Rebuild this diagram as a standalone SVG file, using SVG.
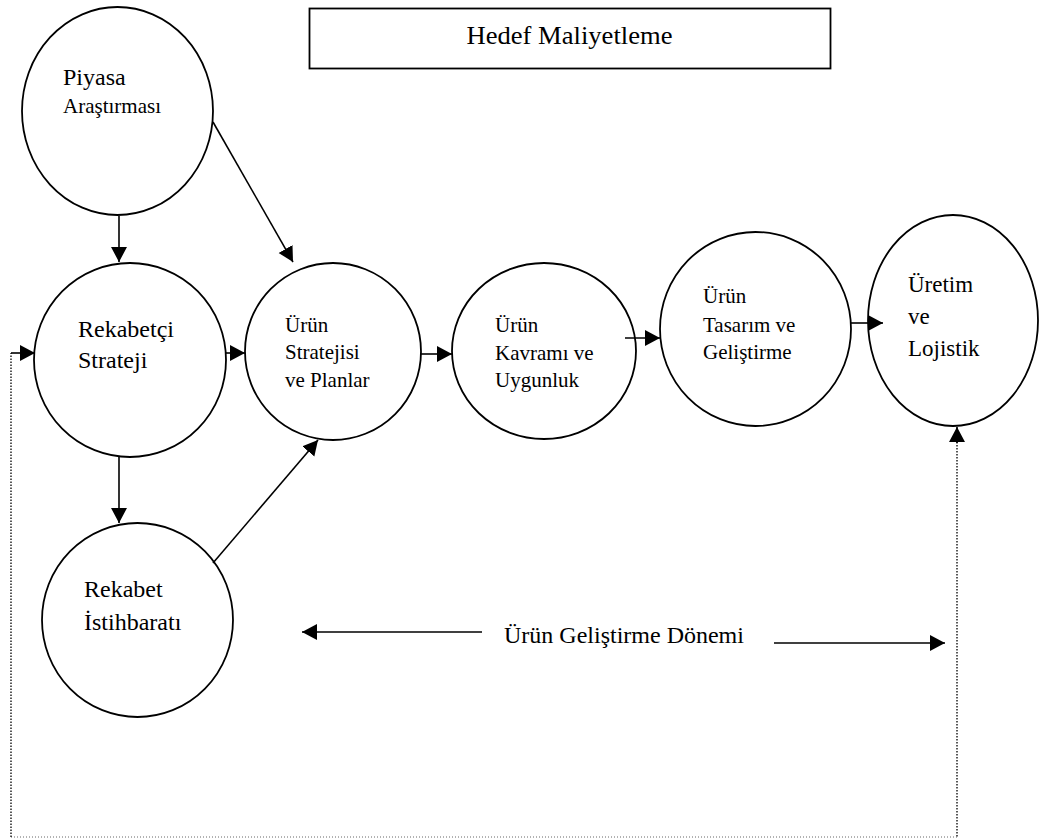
<svg xmlns="http://www.w3.org/2000/svg" width="1039" height="839" viewBox="0 0 1039 839">
  <style>
    .node { fill: #fff; stroke: #000; stroke-width: 1.8; }
    .lbl { font-family: "Liberation Serif", "Times New Roman", serif; fill: #000; }
    .edge { fill: none; stroke: #000; stroke-width: 1.6; }
    .dotv { fill: none; stroke: #000; stroke-width: 1.3; stroke-dasharray: 1.5 1.5; }
    .doth { fill: none; stroke: #666; stroke-width: 1; stroke-dasharray: 1 2; }
  </style>
  <defs>
    <marker id="arrow" markerUnits="userSpaceOnUse" markerWidth="16" markerHeight="17" refX="15" refY="8" orient="auto">
      <path d="M0,0 L15,8 L0,16 Z" fill="#000"/>
    </marker>
  </defs>
  <rect width="1039" height="839" fill="#fff"/>

  <!-- title box -->
  <g id="title">
    <rect x="309.5" y="8.5" width="521" height="60" fill="#fff" stroke="#000" stroke-width="1.8"/>
    <text class="lbl" x="569.5" y="44" font-size="26" text-anchor="middle" textLength="206" lengthAdjust="spacingAndGlyphs">Hedef Maliyetleme</text>
  </g>

  <g id="piyasa">
    <ellipse class="node" cx="117.5" cy="111" rx="95.5" ry="104"/>
    <text class="lbl" x="63" y="85" font-size="24">Piyasa</text>
    <text class="lbl" x="63" y="113" font-size="21">Araştırması</text>
  </g>

  <g id="rekabetci-strateji">
    <ellipse class="node" cx="130" cy="360" rx="96" ry="97"/>
    <text class="lbl" x="78" y="337" font-size="24">Rekabetçi</text>
    <text class="lbl" x="78" y="368" font-size="24">Strateji</text>
  </g>

  <g id="urun-stratejisi">
    <ellipse class="node" cx="333" cy="351.5" rx="88" ry="88.5"/>
    <text class="lbl" x="285" y="332" font-size="21">Ürün</text>
    <text class="lbl" x="285" y="359" font-size="21">Stratejisi</text>
    <text class="lbl" x="285" y="387" font-size="21">ve Planlar</text>
  </g>

  <g id="urun-kavrami">
    <ellipse class="node" cx="544" cy="351" rx="92" ry="88"/>
    <text class="lbl" x="495" y="332" font-size="21">Ürün</text>
    <text class="lbl" x="495" y="360" font-size="21">Kavramı ve</text>
    <text class="lbl" x="495" y="387" font-size="21">Uygunluk</text>
  </g>

  <g id="urun-tasarim">
    <ellipse class="node" cx="755.5" cy="329" rx="95.5" ry="97"/>
    <text class="lbl" x="703" y="303" font-size="21">Ürün</text>
    <text class="lbl" x="703" y="332" font-size="21">Tasarım ve</text>
    <text class="lbl" x="703" y="359" font-size="21">Geliştirme</text>
  </g>

  <g id="uretim">
    <ellipse class="node" cx="953" cy="320.5" rx="85" ry="105.5"/>
    <text class="lbl" x="908" y="292" font-size="23">Üretim</text>
    <text class="lbl" x="908" y="324" font-size="23">ve</text>
    <text class="lbl" x="908" y="356" font-size="23">Lojistik</text>
  </g>

  <g id="rekabet-istihbarati">
    <ellipse class="node" cx="137.5" cy="620" rx="95.5" ry="97"/>
    <text class="lbl" x="84" y="597" font-size="24">Rekabet</text>
    <text class="lbl" x="84" y="630" font-size="24">İstihbaratı</text>
  </g>

  <g id="donem-label">
    <text class="lbl" x="504" y="643" font-size="24">Ürün Geliştirme Dönemi</text>
  </g>

  <!-- connectors, drawn over the nodes -->
  <g id="connectors">
    <line class="edge" x1="119" y1="216" x2="119" y2="262" marker-end="url(#arrow)"/>
    <line class="edge" x1="213" y1="122" x2="293" y2="262" marker-end="url(#arrow)"/>
    <line class="edge" x1="226" y1="353" x2="245" y2="353" marker-end="url(#arrow)"/>
    <line class="edge" x1="421" y1="354" x2="452" y2="354" marker-end="url(#arrow)"/>
    <line class="edge" x1="625" y1="338" x2="660" y2="338" marker-end="url(#arrow)"/>
    <line class="edge" x1="851" y1="323" x2="883" y2="323" marker-end="url(#arrow)"/>
    <line class="edge" x1="119" y1="457" x2="119" y2="523" marker-end="url(#arrow)"/>
    <line class="edge" x1="213" y1="563" x2="318" y2="440" marker-end="url(#arrow)"/>
    <!-- development period span -->
    <line class="edge" x1="482" y1="632" x2="302" y2="632" marker-end="url(#arrow)"/>
    <line class="edge" x1="774" y1="643" x2="945" y2="643" marker-end="url(#arrow)"/>
    <!-- feedback loop -->
    <path class="dotv" d="M957,442 V837"/>
    <path class="doth" d="M957,837 H11"/>
    <path class="dotv" d="M11,837 V353"/>
    <line class="edge" x1="11" y1="353" x2="35" y2="353" marker-end="url(#arrow)"/>
    <line class="edge" x1="957" y1="443" x2="957" y2="427" marker-end="url(#arrow)"/>
  </g>
</svg>
